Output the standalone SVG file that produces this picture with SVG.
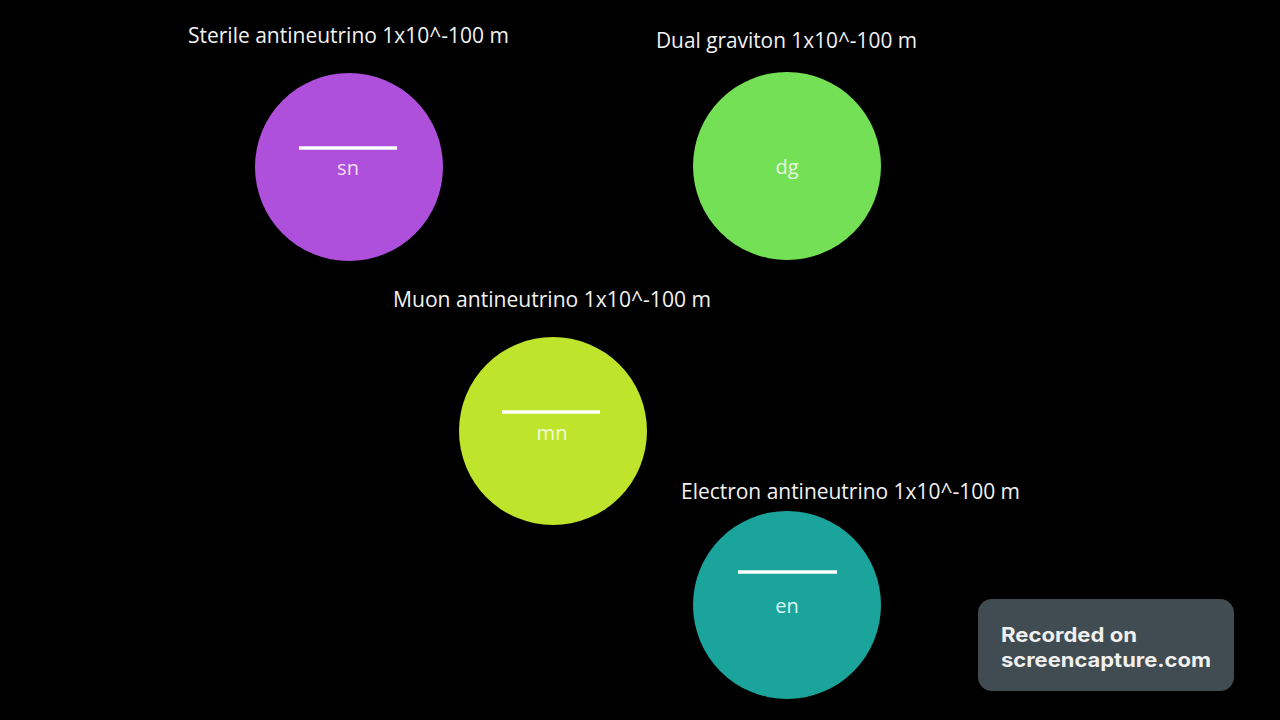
<svg xmlns="http://www.w3.org/2000/svg" width="1280" height="720" viewBox="0 0 1280 720">
<style>
.lbl{font-family:"Open Sans","Liberation Sans",sans-serif;font-size:21px;fill:#f2f2f2}
.in{font-family:"Open Sans","Liberation Sans",sans-serif;font-size:20px;text-anchor:middle}
.bar{stroke:#ffffff;stroke-width:3.5}
.wm{font-family:"Inter","Liberation Sans",sans-serif;font-size:20px;font-weight:bold;fill:#f0f0f0}
</style>
<rect width="1280" height="720" fill="#000000"/>
<g id="sterile">
<text class="lbl" x="188" y="43" textLength="321" lengthAdjust="spacingAndGlyphs">Sterile antineutrino 1x10^-100 m</text>
<circle cx="349" cy="167" r="94" fill="#AF50DC"/>
<line class="bar" x1="299" y1="148" x2="397" y2="148"/>
<text class="in" x="348" y="175" fill="#f6dcf6">sn</text>
</g>
<g id="dual">
<text class="lbl" x="656" y="48" textLength="261" lengthAdjust="spacingAndGlyphs">Dual graviton 1x10^-100 m</text>
<circle cx="787" cy="166" r="94" fill="#74E055"/>
<text class="in" x="787" y="174" fill="#e8fae0">dg</text>
</g>
<g id="muon">
<text class="lbl" x="393" y="307" textLength="318" lengthAdjust="spacingAndGlyphs">Muon antineutrino 1x10^-100 m</text>
<circle cx="553" cy="431" r="94" fill="#BEE52C"/>
<line class="bar" x1="502" y1="412" x2="600" y2="412"/>
<text class="in" x="552" y="440" fill="#f4fad8">mn</text>
</g>
<g id="electron">
<text class="lbl" x="681" y="499" textLength="339" lengthAdjust="spacingAndGlyphs">Electron antineutrino 1x10^-100 m</text>
<circle cx="787" cy="605" r="94" fill="#1BA49B"/>
<line class="bar" x1="738" y1="572" x2="837" y2="572"/>
<text class="in" x="787" y="613" fill="#d8f6f4">en</text>
</g>
<g id="connectors"></g>
<g id="watermark">
<rect x="978" y="599" width="256" height="92" rx="14" fill="#404C51"/>
<text class="wm" x="1001" y="642" textLength="136" lengthAdjust="spacingAndGlyphs">Recorded on</text>
<text class="wm" x="1001" y="667" textLength="210" lengthAdjust="spacingAndGlyphs">screencapture.com</text>
</g>
</svg>
